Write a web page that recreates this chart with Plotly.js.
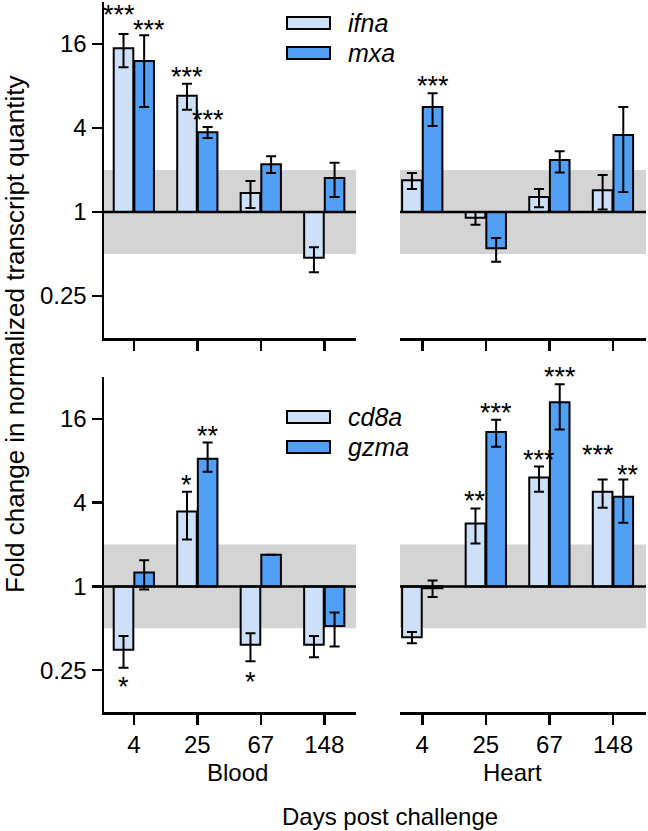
<!DOCTYPE html>
<html>
<head>
<meta charset="utf-8">
<script src="https://cdn.plot.ly/plotly-3.0.1.min.js"></script>
<style>html,body{margin:0;padding:0;background:#fff;}#chart{width:648px;height:831px;}</style>
</head>
<body>
<div id="chart"></div>
<script>
// ---- data (fold change) ----
const days = ['4', '25', '67', '148'];
const tickVals = [0.25, 1, 4, 16];
const tickText = ['0.25', '1', '4', '16'];

// Top row: ifna / mxa
const bloodIfna   = [14.9, 6.8, 1.37, 0.47];
const bloodIfnaHi = [18.9, 8.3, 1.67, 0.56];
const bloodIfnaLo = [10.9, 5.4, 1.07, 0.37];
const bloodMxa    = [12.1, 3.73, 2.2, 1.75];
const bloodMxaHi  = [18.5, 4.06, 2.51, 2.25];
const bloodMxaLo  = [5.66, 3.39, 1.9, 1.28];
const heartIfna   = [1.69, 0.91, 1.28, 1.43];
const heartIfnaHi = [1.9, 1.0, 1.46, 1.84];
const heartIfnaLo = [1.46, 0.81, 1.08, 1.04];
const heartMxa    = [5.66, 0.55, 2.36, 3.56];
const heartMxaHi  = [7.1, 0.65, 2.73, 5.66];
const heartMxaLo  = [4.14, 0.44, 1.92, 1.39];

// Bottom row: cd8a / gzma
const bloodCd8a   = [0.35, 3.46, 0.38, 0.38];
const bloodCd8aHi = [0.44, 4.79, 0.46, 0.44];
const bloodCd8aLo = [0.26, 2.17, 0.29, 0.31];
const bloodGzma   = [1.26, 8.28, 1.69, 0.52];
const bloodGzmaHi = [1.54, 10.8, 1.69, 0.65];
const bloodGzmaLo = [0.95, 6.68, 1.69, 0.37];
const heartCd8a   = [0.43, 2.83, 6.06, 4.79];
const heartCd8aHi = [0.47, 3.63, 7.26, 5.86];
const heartCd8aLo = [0.39, 2.03, 4.79, 3.68];
const heartGzma   = [0.97, 12.9, 21.1, 4.41];
const heartGzmaHi = [1.10, 15.8, 28.4, 5.86];
const heartGzmaLo = [0.84, 10.1, 13.4, 2.87];

// significance labels
const bloodIfnaSig = ['***', '***', '', ''];
const bloodMxaSig  = ['***', '***', '', ''];
const heartIfnaSig = ['', '', '', ''];
const heartMxaSig  = ['***', '', '', ''];
const bloodCd8aSig = ['*', '*', '*', ''];
const bloodGzmaSig = ['', '**', '', ''];
const heartCd8aSig = ['', '**', '***', '***'];
const heartGzmaSig = ['', '***', '***', '**'];

const bandLow = 0.5, bandHigh = 2;

// ---- drawing ----
const W = 648, H = 831;
const FONT = 'Liberation Sans, Arial, sans-serif';
const LIGHT = '#cde0f8', DARK = '#52a0f6';
const l2 = v => Math.log2(v);

function px2x(p) { return p / W; }
function px2y(p) { return 1 - p / H; }

// label placement tweaks (pixels): raise = extra vertical offset, nudge = horizontal shift
const panels = [
  {ax: '', vals: [bloodIfna, bloodMxa], hi: [bloodIfnaHi, bloodMxaHi], lo: [bloodIfnaLo, bloodMxaLo], sig: [bloodIfnaSig, bloodMxaSig],
   raise: [[12,0,0,0],[-2,0,0,0]], nudge: [[-5,0,0,0],[5,0,0,0]]},
  {ax: '2', vals: [heartIfna, heartMxa], hi: [heartIfnaHi, heartMxaHi], lo: [heartIfnaLo, heartMxaLo], sig: [heartIfnaSig, heartMxaSig],
   raise: [[0,0,0,0],[0,0,0,0]], nudge: [[0,0,0,0],[0,0,0,0]]},
  {ax: '3', vals: [bloodCd8a, bloodGzma], hi: [bloodCd8aHi, bloodGzmaHi], lo: [bloodCd8aLo, bloodGzmaLo], sig: [bloodCd8aSig, bloodGzmaSig],
   raise: [[0,0,2,0],[0,0,0,0]], nudge: [[0,0,0,0],[0,0,0,0]]},
  {ax: '4', vals: [heartCd8a, heartGzma], hi: [heartCd8aHi, heartGzmaHi], lo: [heartCd8aLo, heartGzmaLo], sig: [heartCd8aSig, heartGzmaSig],
   raise: [[0,0,0,18],[0,0,0,-2]], nudge: [[0,0,0,-5],[0,0,0,5]]}
];

const traces = [];
const annotations = [];
const shapes = [];
const colors = [LIGHT, DARK];
const offs = [-0.1625, 0.1625];

panels.forEach(p => {
  for (let s = 0; s < 2; s++) {
    const v = p.vals[s];
    traces.push({
      type: 'bar',
      x: days,
      y: v.map(l2),
      xaxis: 'x' + p.ax, yaxis: 'y' + p.ax,
      marker: {color: colors[s], line: {color: '#000', width: 2}},
      error_y: {
        type: 'data', symmetric: false,
        array: v.map((d, i) => l2(p.hi[s][i]) - l2(d)),
        arrayminus: v.map((d, i) => l2(d) - l2(p.lo[s][i])),
        color: '#000', thickness: 2, width: 5
      },
      hoverinfo: 'skip',
      showlegend: false
    });
    p.sig[s].forEach((txt, i) => {
      if (!txt) return;
      const up = v[i] >= 1;
      annotations.push({
        xref: 'x' + p.ax, yref: 'y' + p.ax,
        x: i + offs[s],
        y: up ? l2(p.hi[s][i]) : l2(p.lo[s][i]),
        text: txt, showarrow: false,
        xanchor: 'center', yanchor: 'middle',
        xshift: p.nudge[s][i],
        yshift: up ? 7 + p.raise[s][i] : -19 - p.raise[s][i],
        font: {family: FONT, size: 27, color: '#000'}
      });
    });
  }
  shapes.push({type: 'rect', xref: 'x' + p.ax + ' domain', yref: 'y' + p.ax, x0: 0, x1: 1,
    y0: l2(bandLow), y1: l2(bandHigh), fillcolor: '#d4d4d4', line: {width: 0}, layer: 'below'});
  shapes.push({type: 'line', xref: 'x' + p.ax + ' domain', yref: 'y' + p.ax, x0: 0, x1: 1,
    y0: 0, y1: 0, line: {color: '#000', width: 2.5}, layer: 'above'});
});

const leftX = [px2x(104), px2x(356)];
const rightX = [px2x(400), px2x(646)];
const topY = [px2y(338), px2y(2)];
const botY = [px2y(712), px2y(377)];

function xAxis(domain, anchor, labels, range) {
  return {
    domain: domain, anchor: anchor, type: 'category', range: range,
    showline: true, linecolor: '#000', linewidth: 2.5,
    ticks: 'outside', ticklen: 10, tickwidth: 2.5, tickcolor: '#000',
    showticklabels: labels, showgrid: false, zeroline: false, fixedrange: true,
    tickfont: {family: FONT, size: 24, color: '#000'}
  };
}
function yAxis(domain, anchor, show) {
  return {
    domain: domain, anchor: anchor, range: [-3, 5],
    tickvals: tickVals.map(l2), ticktext: tickText,
    showline: show, visible: show, linecolor: '#000', linewidth: 2.5,
    ticks: show ? 'outside' : '', ticklen: 10, tickwidth: 2.5, tickcolor: '#000',
    showgrid: false, zeroline: false, fixedrange: true,
    tickfont: {family: FONT, size: 24, color: '#000'}
  };
}

// custom legends
function legend(yTopPx, names) {
  names.forEach((nm, k) => {
    const y0 = yTopPx + k * 30;
    shapes.push({type: 'rect', xref: 'paper', yref: 'paper',
      x0: px2x(287), x1: px2x(330), y0: px2y(y0 + 12), y1: px2y(y0),
      fillcolor: colors[k], line: {color: '#000', width: 2}});
    annotations.push({xref: 'paper', yref: 'paper', x: px2x(346), y: px2y(y0 + 6),
      xanchor: 'left', yanchor: 'middle', showarrow: false,
      text: '<i>' + nm + '</i>', font: {family: FONT, size: 25, color: '#000'}});
  });
}
legend(17, ['ifna', 'mxa']);
legend(411, ['cd8a', 'gzma']);

annotations.push({xref: 'paper', yref: 'paper', x: px2x(237), y: px2y(772), xanchor: 'center', yanchor: 'middle',
  showarrow: false, text: 'Blood', font: {family: FONT, size: 24, color: '#000'}});
annotations.push({xref: 'paper', yref: 'paper', x: px2x(512), y: px2y(772), xanchor: 'center', yanchor: 'middle',
  showarrow: false, text: 'Heart', font: {family: FONT, size: 24, color: '#000'}});
annotations.push({xref: 'paper', yref: 'paper', x: px2x(390), y: px2y(816), xanchor: 'center', yanchor: 'middle',
  showarrow: false, text: 'Days post challenge', font: {family: FONT, size: 24, color: '#000'}});
annotations.push({xref: 'paper', yref: 'paper', x: px2x(15), y: px2y(335), xanchor: 'center', yanchor: 'middle',
  showarrow: false, textangle: -90, text: 'Fold change in normalized transcript quantity',
  font: {family: FONT, size: 26, color: '#000'}});

const layout = {
  width: W, height: H,
  margin: {l: 0, r: 0, t: 0, b: 0},
  paper_bgcolor: '#fff', plot_bgcolor: 'rgba(0,0,0,0)',
  barmode: 'group', bargap: 0.35, bargroupgap: 0.05,
  showlegend: false,
  xaxis: xAxis(leftX, 'y', false, [-0.47, 3.5]),
  yaxis: yAxis(topY, 'x', true),
  xaxis2: xAxis(rightX, 'y2', false, [-0.35, 3.52]),
  yaxis2: yAxis(topY, 'x2', false),
  xaxis3: xAxis(leftX, 'y3', true, [-0.47, 3.5]),
  yaxis3: yAxis(botY, 'x3', true),
  xaxis4: xAxis(rightX, 'y4', true, [-0.35, 3.52]),
  yaxis4: yAxis(botY, 'x4', false),
  shapes: shapes,
  annotations: annotations
};

Plotly.newPlot('chart', traces, layout, {staticPlot: true, displayModeBar: false});
</script>
</body>
</html>
